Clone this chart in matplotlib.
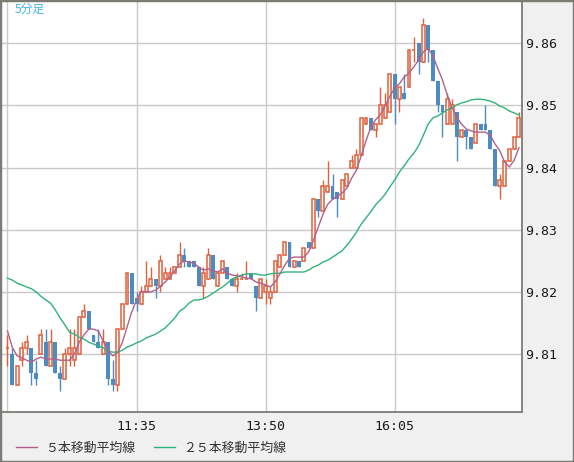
"""
5-minute candlestick chart with 5 / 25 period moving averages.
Output: out.png (574x462)
"""

import numpy as np
import matplotlib
matplotlib.use("Agg")
import matplotlib.pyplot as plt
from matplotlib.patches import Rectangle
from matplotlib.lines import Line2D

# ── data ─────────────────────────────────────────────────────────────────────
opens = [
    9.811, 9.810, 9.805, 9.809, 9.811, 9.811, 9.807, 9.810, 9.812, 9.808,
    9.812, 9.807, 9.806, 9.810, 9.809, 9.810, 9.816, 9.817, 9.813, 9.812,
    9.810, 9.812, 9.806, 9.805, 9.814, 9.818, 9.823, 9.819, 9.818, 9.820,
    9.821, 9.822, 9.821, 9.822, 9.822, 9.823, 9.824, 9.826, 9.825, 9.825,
    9.824, 9.821, 9.822, 9.826, 9.821, 9.823, 9.824, 9.822, 9.821, 9.822,
    9.822, 9.823, 9.821, 9.819, 9.820, 9.819, 9.820, 9.824, 9.826, 9.828,
    9.824, 9.825, 9.825, 9.828, 9.827, 9.835, 9.833, 9.836, 9.837, 9.836,
    9.835, 9.837, 9.840, 9.840, 9.842, 9.847, 9.848, 9.846, 9.847, 9.848,
    9.849, 9.855, 9.851, 9.852, 9.853, 9.859, 9.860, 9.857, 9.863, 9.859,
    9.854, 9.850, 9.847, 9.847, 9.849, 9.845, 9.846, 9.845, 9.844, 9.847,
    9.847, 9.846, 9.843, 9.837, 9.837, 9.841, 9.843, 9.845,
]
closes = [
    9.811, 9.805, 9.808, 9.811, 9.812, 9.807, 9.806, 9.813, 9.808, 9.812,
    9.807, 9.806, 9.810, 9.811, 9.811, 9.816, 9.817, 9.814, 9.812, 9.811,
    9.812, 9.806, 9.805, 9.814, 9.818, 9.823, 9.818, 9.818, 9.820, 9.821,
    9.822, 9.821, 9.825, 9.823, 9.823, 9.824, 9.826, 9.825, 9.824, 9.824,
    9.821, 9.823, 9.826, 9.822, 9.823, 9.825, 9.822, 9.821, 9.822, 9.822,
    9.822, 9.822, 9.819, 9.822, 9.821, 9.820, 9.825, 9.826, 9.828, 9.824,
    9.825, 9.824, 9.827, 9.827, 9.835, 9.833, 9.837, 9.837, 9.835, 9.835,
    9.838, 9.839, 9.841, 9.842, 9.848, 9.848, 9.846, 9.847, 9.850, 9.850,
    9.855, 9.851, 9.853, 9.851, 9.859, 9.859, 9.857, 9.863, 9.859, 9.854,
    9.850, 9.849, 9.851, 9.850, 9.845, 9.846, 9.845, 9.843, 9.847, 9.846,
    9.846, 9.843, 9.837, 9.838, 9.841, 9.843, 9.845, 9.848,
]
highs = [
    9.813, 9.811, 9.808, 9.812, 9.813, 9.811, 9.809, 9.814, 9.814, 9.814,
    9.812, 9.808, 9.811, 9.814, 9.814, 9.816, 9.818, 9.817, 9.813, 9.814,
    9.814, 9.812, 9.809, 9.814, 9.818, 9.823, 9.823, 9.820, 9.821, 9.825,
    9.824, 9.822, 9.826, 9.824, 9.824, 9.824, 9.828, 9.827, 9.825, 9.825,
    9.824, 9.824, 9.827, 9.826, 9.823, 9.825, 9.824, 9.822, 9.823, 9.823,
    9.825, 9.823, 9.821, 9.822, 9.822, 9.821, 9.825, 9.826, 9.828, 9.828,
    9.825, 9.825, 9.827, 9.828, 9.835, 9.835, 9.838, 9.841, 9.839, 9.836,
    9.838, 9.839, 9.842, 9.843, 9.848, 9.848, 9.848, 9.847, 9.853, 9.852,
    9.855, 9.855, 9.853, 9.855, 9.859, 9.861, 9.860, 9.864, 9.863, 9.859,
    9.854, 9.850, 9.852, 9.851, 9.849, 9.846, 9.846, 9.845, 9.847, 9.847,
    9.850, 9.846, 9.843, 9.839, 9.841, 9.843, 9.845, 9.849,
]
lows = [
    9.808, 9.805, 9.805, 9.808, 9.810, 9.805, 9.805, 9.810, 9.808, 9.808,
    9.807, 9.804, 9.806, 9.808, 9.808, 9.810, 9.816, 9.814, 9.812, 9.811,
    9.810, 9.805, 9.804, 9.804, 9.814, 9.818, 9.818, 9.817, 9.818, 9.820,
    9.821, 9.819, 9.820, 9.822, 9.822, 9.823, 9.824, 9.824, 9.824, 9.824,
    9.821, 9.819, 9.822, 9.822, 9.821, 9.823, 9.822, 9.821, 9.820, 9.822,
    9.822, 9.822, 9.817, 9.819, 9.818, 9.818, 9.820, 9.824, 9.826, 9.824,
    9.824, 9.824, 9.825, 9.827, 9.827, 9.832, 9.833, 9.836, 9.835, 9.832,
    9.835, 9.837, 9.840, 9.840, 9.842, 9.847, 9.846, 9.845, 9.847, 9.848,
    9.849, 9.847, 9.849, 9.851, 9.853, 9.857, 9.855, 9.857, 9.857, 9.854,
    9.849, 9.845, 9.847, 9.847, 9.841, 9.845, 9.843, 9.843, 9.844, 9.846,
    9.846, 9.843, 9.837, 9.835, 9.837, 9.841, 9.843, 9.845,
]
ma5 = [
    9.8137, 9.8111, 9.8097, 9.8094, 9.8090, 9.8087, 9.8092, 9.8095, 9.8092, 9.8092,
    9.8092, 9.8090, 9.8090, 9.8090, 9.8100, 9.8119, 9.8131, 9.8140, 9.8140, 9.8137,
    9.8121, 9.8106, 9.8097, 9.8102, 9.8118, 9.8143, 9.8168, 9.8187, 9.8201, 9.8200,
    9.8200, 9.8203, 9.8209, 9.8216, 9.8224, 9.8234, 9.8245, 9.8250, 9.8248, 9.8246,
    9.8240, 9.8235, 9.8237, 9.8234, 9.8232, 9.8237, 9.8230, 9.8227, 9.8226, 9.8224,
    9.8222, 9.8221, 9.8216, 9.8214, 9.8211, 9.8208, 9.8216, 9.8229, 9.8243, 9.8254,
    9.8256, 9.8256, 9.8256, 9.8264, 9.8283, 9.8304, 9.8325, 9.8341, 9.8349, 9.8354,
    9.8359, 9.8367, 9.8383, 9.8396, 9.8419, 9.8443, 9.8465, 9.8477, 9.8485, 9.8499,
    9.8515, 9.8528, 9.8535, 9.8546, 9.8552, 9.8562, 9.8573, 9.8586, 9.8592, 9.8580,
    9.8560, 9.8541, 9.8517, 9.8497, 9.8481, 9.8470, 9.8462, 9.8459, 9.8457, 9.8457,
    9.8457, 9.8452, 9.8438, 9.8427, 9.8409, 9.8401, 9.8412, 9.8432,
]
ma25 = [
    9.8222, 9.8219, 9.8214, 9.8211, 9.8208, 9.8205, 9.8200, 9.8193, 9.8187, 9.8182,
    9.8171, 9.8158, 9.8147, 9.8135, 9.8132, 9.8127, 9.8124, 9.8119, 9.8116, 9.8113,
    9.8110, 9.8105, 9.8103, 9.8103, 9.8106, 9.8111, 9.8114, 9.8118, 9.8121, 9.8126,
    9.8129, 9.8132, 9.8137, 9.8142, 9.8150, 9.8158, 9.8169, 9.8174, 9.8182, 9.8187,
    9.8187, 9.8189, 9.8193, 9.8198, 9.8203, 9.8208, 9.8214, 9.8221, 9.8224, 9.8227,
    9.8229, 9.8229, 9.8229, 9.8227, 9.8227, 9.8229, 9.8230, 9.8230, 9.8232, 9.8232,
    9.8232, 9.8232, 9.8232, 9.8235, 9.8240, 9.8243, 9.8248, 9.8251, 9.8256, 9.8261,
    9.8266, 9.8275, 9.8285, 9.8296, 9.8309, 9.8319, 9.8329, 9.8340, 9.8348, 9.8357,
    9.8369, 9.8380, 9.8393, 9.8403, 9.8414, 9.8423, 9.8435, 9.8452, 9.8470, 9.8480,
    9.8483, 9.8488, 9.8493, 9.8496, 9.8501, 9.8504, 9.8506, 9.8509, 9.8510, 9.8510,
    9.8509, 9.8507, 9.8504, 9.8499, 9.8496, 9.8491, 9.8488, 9.8485,
]

price_ticks = [9.81, 9.82, 9.83, 9.84, 9.85, 9.86]
time_ticks  = [0, 27, 54, 81]          # candle index of the vertical grid lines
time_labels = ["", "11:35", "13:50", "16:05"]
legend_labels = ["５本移動平均線", "２５本移動平均線"]
period_label = "5分足"

# ── style ────────────────────────────────────────────────────────────────────
RED   = "#e0603c"
BLUE  = "#4d8bc3"
PINK  = "#b2618d"
GREEN = "#2fb37c"
GRID  = "#c9c9c9"
FRAME = "#7c7c76"
BG    = "#f0f0f0"
CJK   = ["Noto Sans CJK JP", "DejaVu Sans"]
MONO  = ["DejaVu Sans Mono"]

W, H = 574, 462
fig = plt.figure(figsize=(W / 100, H / 100), dpi=100, facecolor=BG)
ax = fig.add_axes([2 / W, 50 / H, 520 / W, 410 / H])
ax.set_facecolor("white")

o = np.array(opens)
c = np.array(closes)
hi = np.array(highs)
lo = np.array(lows)
x = np.arange(len(o))
up = c >= o
dn = ~up

# wicks
ax.vlines(x[up], lo[up], hi[up], color=RED, lw=1, zorder=2)
ax.vlines(x[dn], lo[dn], hi[dn], color=BLUE, lw=1, zorder=2)
# bodies: hollow red for up, filled blue for down
ax.bar(x[up], c[up] - o[up], bottom=o[up], width=0.62,
       facecolor="white", edgecolor=RED, lw=1.1, zorder=3)
ax.bar(x[dn], o[dn] - c[dn], bottom=c[dn], width=0.82,
       color=BLUE, lw=0, zorder=3)

# moving averages
ax.plot(x, ma25, color=GREEN, lw=1.0, zorder=4)
ax.plot(x, ma5, color=PINK, lw=1.0, zorder=5)

ax.set_xlim(-1.15, 107.64)
ax.set_ylim(9.80067, 9.86665)

ax.set_yticks(price_ticks)
ax.set_yticklabels([f"{v:.2f}" for v in price_ticks])
ax.yaxis.tick_right()
ax.set_xticks(time_ticks)
ax.set_xticklabels(time_labels)
ax.grid(True, color=GRID, lw=1.0, zorder=0)
ax.set_axisbelow(True)
ax.tick_params(axis="both", length=0, labelsize=9.5, labelcolor="#1a1a1a")
ax.tick_params(axis="y", pad=2.5)
ax.tick_params(axis="x", pad=6)
for lab in ax.get_xticklabels() + ax.get_yticklabels():
    lab.set_family(MONO)

for side in ("top", "left"):
    ax.spines[side].set_visible(False)
for side in ("right", "bottom"):
    ax.spines[side].set_color(FRAME)
    ax.spines[side].set_linewidth(1.3)

# period label in the corner
fig.text(15 / W, 1 - 3 / H, period_label, ha="left", va="top",
         color="#3cb4e8", fontsize=8.5, family=CJK)

# legend below the plot
handles = [Line2D([], [], color=PINK, lw=1.0),
           Line2D([], [], color=GREEN, lw=1.0)]
fig.legend(handles, legend_labels, loc="center left",
           bbox_to_anchor=(16 / W, 1 - 448 / H), ncol=2, frameon=False,
           borderpad=0, borderaxespad=0, handlelength=1.63,
           handletextpad=0.62, columnspacing=1.47,
           prop={"family": CJK, "size": 9.3}, labelcolor="#333333")

# outer frame
fig.add_artist(Rectangle((0, 0), 1, 1, transform=fig.transFigure,
                         fill=False, edgecolor=FRAME, lw=2.5))

fig.savefig("out.png", dpi=100, facecolor=fig.get_facecolor())
print("Saved: out.png")
